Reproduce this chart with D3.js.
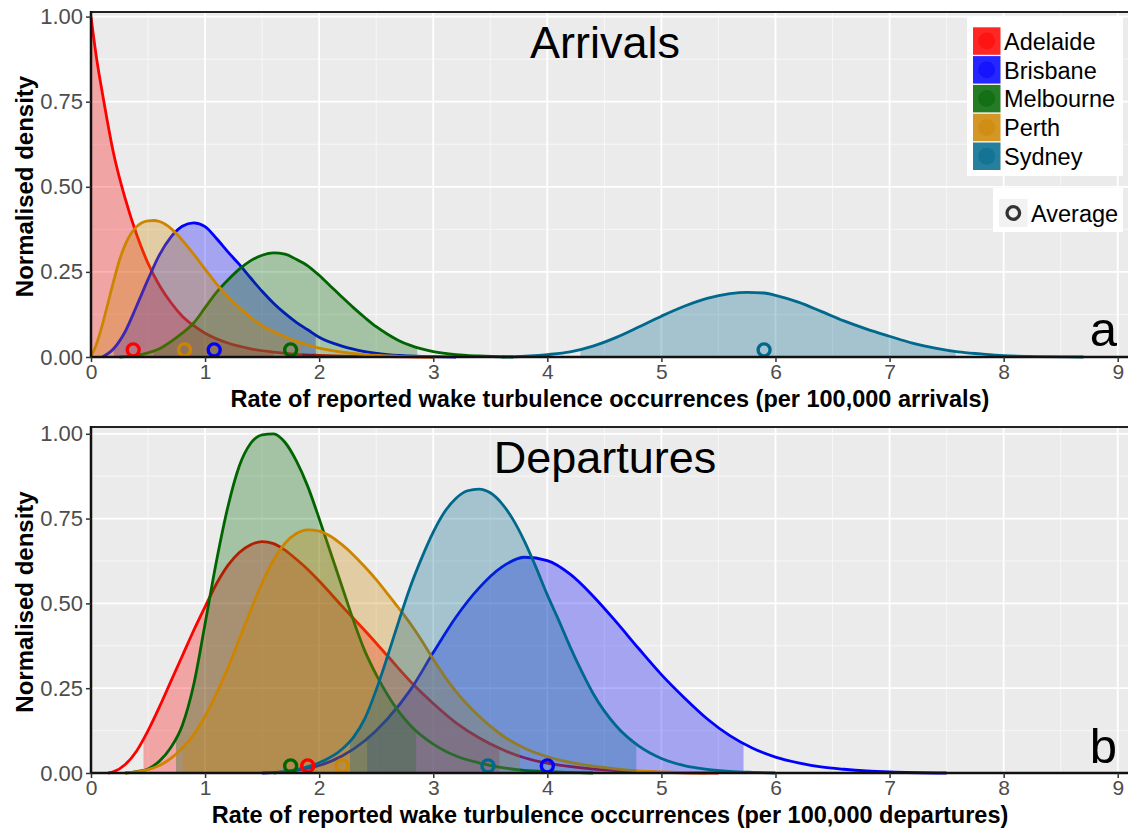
<!DOCTYPE html>
<html>
<head>
<meta charset="utf-8">
<script src="https://cdn.jsdelivr.net/npm/d3@7"></script>
<style>
  body { margin: 0; background: #ffffff; }
  svg { display: block; font-family: "Liberation Sans", Arial, sans-serif; }
</style>
</head>
<body>
<svg id="chart" width="1129" height="828"></svg>
<script>
// ---------------- DATA ----------------
const cities = ["Adelaide", "Brisbane", "Melbourne", "Perth", "Sydney"];
const cityColors = ["#FF0000", "#0000FF", "#006400", "#CD8500", "#00688B"];

const xTicks = [0, 1, 2, 3, 4, 5, 6, 7, 8, 9];
const yTicks = [0, 0.25, 0.5, 0.75, 1.0];
const yTickLabels = ["0.00", "0.25", "0.50", "0.75", "1.00"];

// Arrivals: normalised density curves [rate, density]
const arrAdelaide = [[0,1.0],[0.05,0.875],[0.1,0.775],[0.2,0.595],[0.3,0.465],[0.4,0.36],[0.5,0.275],[0.6,0.21],[0.7,0.16],[0.8,0.12],[0.9,0.092],[1.0,0.07],[1.2,0.041],[1.4,0.024],[1.6,0.014],[1.8,0.008],[2.0,0.005],[2.4,0.002],[3.0,0]];
const arrBrisbane = [[0.1,0],[0.2,0.025],[0.3,0.075],[0.4,0.15],[0.5,0.228],[0.6,0.3],[0.7,0.352],[0.8,0.384],[0.9,0.394],[1.0,0.383],[1.1,0.348],[1.2,0.309],[1.3,0.272],[1.4,0.232],[1.5,0.193],[1.6,0.158],[1.7,0.128],[1.8,0.102],[1.9,0.08],[2.0,0.058],[2.2,0.032],[2.4,0.016],[2.6,0.007],[2.9,0.002],[3.2,0]];
const arrMelbourne = [[0.25,0],[0.4,0.005],[0.5,0.012],[0.6,0.024],[0.7,0.045],[0.8,0.07],[0.9,0.1],[1.0,0.145],[1.1,0.19],[1.2,0.226],[1.3,0.258],[1.4,0.283],[1.5,0.299],[1.6,0.306],[1.7,0.302],[1.8,0.287],[1.9,0.268],[2.0,0.24],[2.1,0.208],[2.2,0.176],[2.3,0.145],[2.4,0.116],[2.5,0.089],[2.6,0.067],[2.7,0.048],[2.8,0.034],[3.0,0.016],[3.2,0.007],[3.4,0.003],[3.7,0]];
const arrPerth = [[0,0],[0.05,0.04],[0.1,0.095],[0.15,0.16],[0.2,0.225],[0.25,0.285],[0.3,0.33],[0.35,0.362],[0.4,0.383],[0.5,0.4],[0.55,0.401],[0.6,0.398],[0.7,0.378],[0.8,0.343],[0.9,0.302],[1.0,0.258],[1.1,0.215],[1.2,0.177],[1.3,0.145],[1.4,0.116],[1.5,0.092],[1.6,0.075],[1.8,0.046],[2.0,0.026],[2.2,0.014],[2.4,0.007],[2.7,0.002],[3.0,0]];
const arrSydney = [[3.6,0],[3.85,0.003],[4.0,0.007],[4.2,0.015],[4.4,0.032],[4.6,0.057],[4.8,0.088],[5.0,0.12],[5.2,0.149],[5.4,0.172],[5.6,0.186],[5.75,0.19],[5.9,0.188],[6.0,0.181],[6.2,0.161],[6.4,0.134],[6.6,0.106],[6.8,0.082],[7.0,0.061],[7.2,0.041],[7.4,0.026],[7.6,0.015],[7.8,0.009],[8.0,0.004],[8.3,0.001],[8.7,0]];
const arrIntervals = [[0, 1.6], [0.2, 1.97], [0.55, 2.86], [0.03, 1.85], [4.29, 7.58]];
const arrAverages = [0.37, 1.08, 1.75, 0.82, 5.9];

// Departures
const depAdelaide = [[0.15,0],[0.2,0.004],[0.3,0.025],[0.4,0.065],[0.5,0.125],[0.6,0.195],[0.7,0.27],[0.8,0.345],[0.9,0.42],[1.0,0.49],[1.1,0.558],[1.2,0.612],[1.3,0.65],[1.4,0.673],[1.5,0.682],[1.6,0.676],[1.7,0.657],[1.8,0.63],[1.9,0.6],[2.0,0.566],[2.2,0.492],[2.4,0.42],[2.6,0.345],[2.8,0.27],[3.0,0.205],[3.2,0.148],[3.4,0.104],[3.6,0.07],[3.8,0.045],[4.0,0.029],[4.3,0.015],[4.6,0.007],[5.0,0.002],[5.5,0]];
const depBrisbane = [[1.5,0],[1.8,0.008],[2.0,0.022],[2.2,0.05],[2.4,0.095],[2.6,0.16],[2.8,0.245],[3.0,0.355],[3.2,0.46],[3.4,0.545],[3.6,0.607],[3.8,0.636],[4.0,0.626],[4.2,0.586],[4.4,0.522],[4.6,0.447],[4.8,0.367],[5.0,0.29],[5.2,0.222],[5.4,0.16],[5.6,0.11],[5.8,0.073],[6.0,0.047],[6.2,0.03],[6.4,0.018],[6.6,0.011],[6.8,0.006],[7.0,0.003],[7.5,0]];
const depMelbourne = [[0.3,0],[0.4,0.004],[0.5,0.012],[0.6,0.035],[0.7,0.075],[0.8,0.14],[0.9,0.26],[1.0,0.44],[1.1,0.625],[1.2,0.785],[1.3,0.905],[1.4,0.972],[1.5,0.997],[1.6,1.0],[1.7,0.975],[1.8,0.92],[1.9,0.845],[2.0,0.75],[2.1,0.65],[2.2,0.55],[2.3,0.45],[2.4,0.36],[2.5,0.29],[2.6,0.23],[2.7,0.18],[2.8,0.14],[3.0,0.085],[3.2,0.05],[3.4,0.03],[3.6,0.016],[3.8,0.008],[4.0,0.004],[4.4,0]];
const depPerth = [[0.3,0],[0.5,0.01],[0.6,0.022],[0.7,0.043],[0.8,0.073],[0.9,0.113],[1.0,0.168],[1.1,0.235],[1.2,0.31],[1.3,0.395],[1.4,0.48],[1.5,0.56],[1.6,0.628],[1.7,0.677],[1.8,0.706],[1.9,0.717],[2.0,0.713],[2.1,0.698],[2.2,0.673],[2.3,0.643],[2.4,0.608],[2.5,0.57],[2.6,0.528],[2.7,0.485],[2.8,0.44],[2.9,0.39],[3.0,0.335],[3.1,0.285],[3.2,0.24],[3.4,0.168],[3.6,0.112],[3.8,0.073],[4.0,0.048],[4.2,0.031],[4.4,0.02],[4.6,0.012],[4.8,0.006],[5.0,0.003],[5.4,0]];
const depSydney = [[1.6,0],[1.8,0.01],[2.0,0.03],[2.2,0.07],[2.3,0.105],[2.4,0.16],[2.5,0.245],[2.6,0.345],[2.7,0.45],[2.8,0.55],[2.9,0.635],[3.0,0.71],[3.1,0.77],[3.2,0.81],[3.3,0.832],[3.4,0.837],[3.5,0.826],[3.6,0.795],[3.7,0.747],[3.8,0.683],[3.9,0.607],[4.0,0.525],[4.1,0.45],[4.2,0.372],[4.3,0.3],[4.4,0.235],[4.6,0.14],[4.8,0.08],[5.0,0.043],[5.2,0.022],[5.4,0.011],[5.6,0.005],[5.8,0.002],[6.0,0]];
const depIntervals = [[0.46, 3.58], [2.42, 5.72], [0.745, 2.85], [0.81, 3.76], [2.27, 4.78]];
const depAverages = [1.9, 4.0, 1.75, 2.2, 3.48];

const panelTitles = ["Arrivals", "Departures"];
const panelLetters = ["a", "b"];
const xTitles = ["Rate of reported wake turbulence occurrences (per 100,000 arrivals)",
                 "Rate of reported wake turbulence occurrences (per 100,000 departures)"];
const yTitle = "Normalised density";
const avgLabel = "Average";

// ---------------- DRAW ----------------
const svg = d3.select("#chart");
const X0 = 91, X1 = 1128;
const x = d3.scaleLinear().domain([0, 9.09]).range([X0, X1]);

const panels = [
  { top: 12, bottom: 357, ymax: 1.0135, curves: [arrAdelaide, arrBrisbane, arrMelbourne, arrPerth, arrSydney], intervals: arrIntervals, avgs: arrAverages },
  { top: 427, bottom: 773, ymax: 1.02, curves: [depAdelaide, depBrisbane, depMelbourne, depPerth, depSydney], intervals: depIntervals, avgs: depAverages }
];

panels.forEach((p, pi) => {
  const y = d3.scaleLinear().domain([0, p.ymax]).range([p.bottom, p.top]);
  const g = svg.append("g");

  g.append("rect").attr("x", X0).attr("y", p.top).attr("width", X1 - X0).attr("height", p.bottom - p.top).attr("fill", "#EBEBEB");

  const xMinor = d3.range(0.5, 9.1, 1);
  const yMinor = d3.range(0.125, 1.0, 0.25);
  g.selectAll(".xmin").data(xMinor).enter().append("line")
    .attr("x1", d => x(d)).attr("x2", d => x(d)).attr("y1", p.top).attr("y2", p.bottom)
    .attr("stroke", "#F7F7F7").attr("stroke-width", 1);
  g.selectAll(".ymin").data(yMinor).enter().append("line")
    .attr("x1", X0).attr("x2", X1).attr("y1", d => y(d)).attr("y2", d => y(d))
    .attr("stroke", "#F7F7F7").attr("stroke-width", 1);
  g.selectAll(".xmaj").data(xTicks).enter().append("line")
    .attr("x1", d => x(d)).attr("x2", d => x(d)).attr("y1", p.top).attr("y2", p.bottom)
    .attr("stroke", "#FFFFFF").attr("stroke-width", 1.8);
  g.selectAll(".ymaj").data(yTicks).enter().append("line")
    .attr("x1", X0).attr("x2", X1).attr("y1", d => y(d)).attr("y2", d => y(d))
    .attr("stroke", "#FFFFFF").attr("stroke-width", 1.8);

  const area = d3.area().x(d => x(d[0])).y0(y(0)).y1(d => y(d[1])).curve(d3.curveMonotoneX);
  const line = d3.line().x(d => x(d[0])).y(d => y(d[1])).curve(d3.curveMonotoneX);

  p.curves.forEach((data, ci) => {
    const clipId = `clip-${pi}-${ci}`;
    const iv = p.intervals[ci];
    svg.append("clipPath").attr("id", clipId).append("rect")
      .attr("x", x(iv[0])).attr("y", p.top).attr("width", x(iv[1]) - x(iv[0])).attr("height", p.bottom - p.top);
    g.append("path").datum(data).attr("d", area)
      .attr("fill", cityColors[ci]).attr("fill-opacity", 0.3)
      .attr("clip-path", `url(#${clipId})`);
    g.append("path").datum(data).attr("d", line)
      .attr("fill", "none").attr("stroke", cityColors[ci]).attr("stroke-width", 2.8);
  });

  g.selectAll(".avg").data(p.avgs).enter().append("circle")
    .attr("cx", d => x(d)).attr("cy", y(0.021)).attr("r", 6)
    .attr("fill", "none").attr("stroke", (d, i) => cityColors[i]).attr("stroke-width", 3.4);

  g.append("line").attr("x1", X0).attr("x2", X1).attr("y1", p.top).attr("y2", p.top).attr("stroke", "#222").attr("stroke-width", 2);
  g.append("line").attr("x1", X0).attr("x2", X1).attr("y1", p.bottom).attr("y2", p.bottom).attr("stroke", "#111").attr("stroke-width", 2.5);
  g.append("line").attr("x1", X0).attr("x2", X0).attr("y1", p.top - 1).attr("y2", p.bottom + 1).attr("stroke", "#111").attr("stroke-width", 2.5);

  const xAxis = d3.axisBottom(x).tickValues(xTicks).tickSize(5).tickPadding(2).tickFormat(d3.format("d"));
  const xa = g.append("g").attr("transform", `translate(0,${p.bottom})`).call(xAxis);
  xa.select(".domain").remove();
  xa.selectAll(".tick line").attr("stroke", "#333").attr("stroke-width", 1.5);
  xa.selectAll(".tick text").attr("font-size", 21).attr("fill", "#4D4D4D").attr("font-family", "Liberation Sans, Arial, sans-serif");

  const yAxis = d3.axisLeft(y).tickValues(yTicks).tickSize(5).tickPadding(3).tickFormat((d, i) => yTickLabels[i]);
  const ya = g.append("g").attr("transform", `translate(${X0},0)`).call(yAxis);
  ya.select(".domain").remove();
  ya.selectAll(".tick line").attr("stroke", "#333").attr("stroke-width", 1.5);
  ya.selectAll(".tick text").attr("font-size", 22).attr("fill", "#4D4D4D").attr("font-family", "Liberation Sans, Arial, sans-serif");

  g.append("text").attr("x", 605).attr("y", pi === 0 ? 58 : 473).attr("text-anchor", "middle")
    .attr("font-size", 45).attr("fill", "#000").text(panelTitles[pi]);
  g.append("text").attr("x", 1117).attr("y", pi === 0 ? 346 : 763).attr("text-anchor", "end")
    .attr("font-size", 49).attr("fill", "#000").text(panelLetters[pi]);
  g.append("text").attr("x", 610).attr("y", p.bottom + 50).attr("text-anchor", "middle")
    .attr("font-size", 23.5).attr("font-weight", "bold").attr("fill", "#000").text(xTitles[pi]);
  const cy = (p.top + p.bottom) / 2 + 2;
  g.append("text").attr("transform", `translate(33,${cy}) rotate(-90)`).attr("text-anchor", "middle")
    .attr("font-size", 24).attr("font-weight", "bold").attr("fill", "#000").text(yTitle);
});

// legend (top panel)
const lg = svg.append("g");
lg.append("rect").attr("x", 967).attr("y", 17).attr("width", 156).attr("height", 159).attr("fill", "#FFFFFF");
cities.forEach((c, i) => {
  const ty = 27.3 + i * 28.8;
  lg.append("rect").attr("x", 973).attr("y", ty).attr("width", 27.5).attr("height", 27.5)
    .attr("fill", cityColors[i]).attr("fill-opacity", 0.85);
  lg.append("circle").attr("cx", 986.7).attr("cy", ty + 13.7).attr("r", 8.5)
    .attr("fill", cityColors[i]).attr("fill-opacity", 0.45);
  lg.append("text").attr("x", 1004).attr("y", ty + 22.5).attr("font-size", 23.5).attr("fill", "#000").text(c);
});
lg.append("rect").attr("x", 993).attr("y", 188).attr("width", 130).attr("height", 44).attr("fill", "#FFFFFF");
lg.append("rect").attr("x", 999).attr("y", 199).attr("width", 28.5).attr("height", 28).attr("fill", "#F2F2F2");
lg.append("circle").attr("cx", 1013.3).attr("cy", 213).attr("r", 6.3).attr("fill", "none").attr("stroke", "#333").attr("stroke-width", 3.3);
lg.append("text").attr("x", 1031).attr("y", 222).attr("font-size", 23.5).attr("fill", "#000").text(avgLabel);
</script>
</body>
</html>
